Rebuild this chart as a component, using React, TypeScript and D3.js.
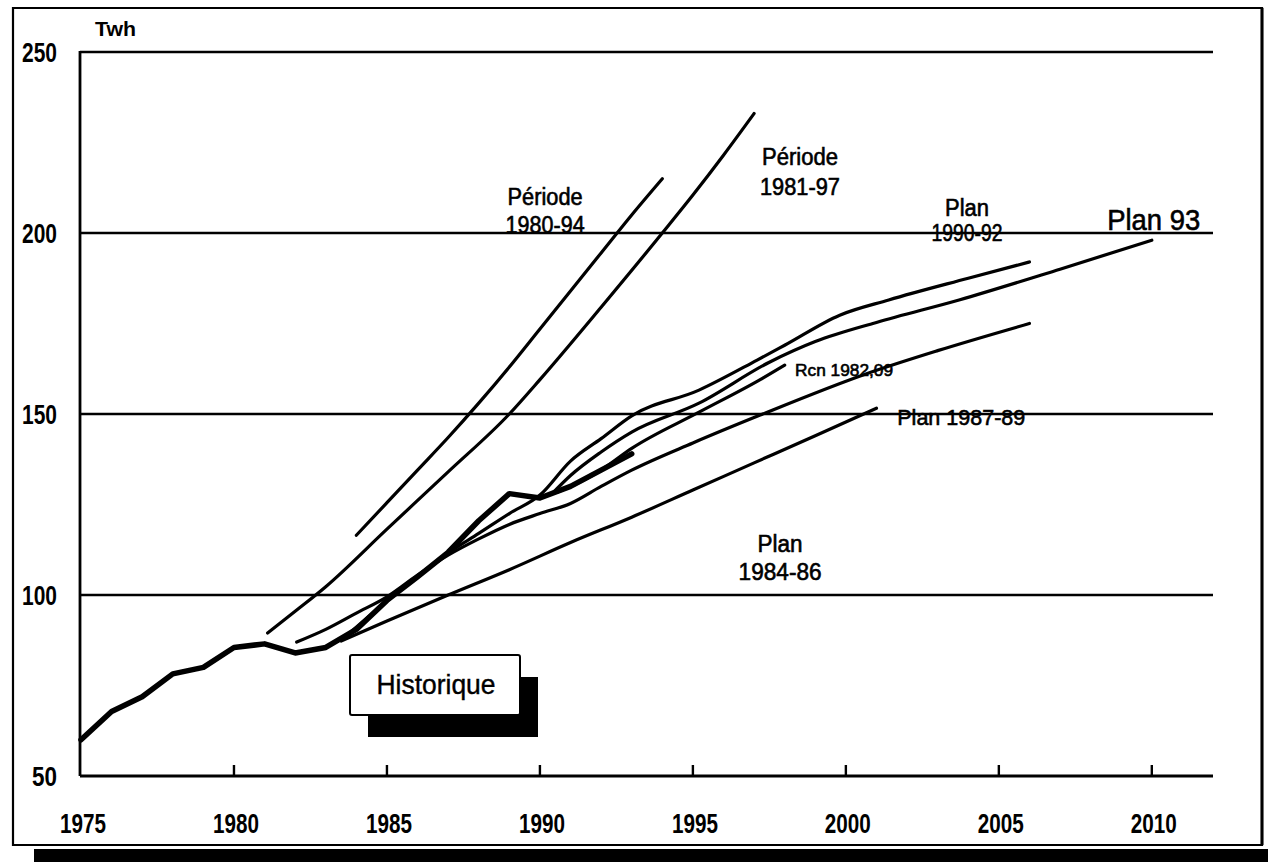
import React, { useRef, useEffect } from 'react';
import * as d3 from 'd3';

type Pt = [number, number];

// Twh
const historique: Pt[] = [[1975, 60], [1976, 67.8], [1977, 71.9], [1978, 78.2], [1979, 80], [1980, 85.5], [1981, 86.5], [1982, 84], [1983, 85.5], [1984, 90.5], [1985, 98.5], [1986, 105], [1987, 111.8], [1988, 120.5], [1989, 128], [1990, 126.8], [1991, 130], [1992, 134.5], [1993, 139]];
const periode8094: Pt[] = [[1984, 116.5], [1985, 125.5], [1986, 134.5], [1987, 143.5], [1988, 153], [1989, 163], [1990, 173.5], [1991, 184], [1992, 194.5], [1993, 205], [1994, 215]];
const periode8197: Pt[] = [[1981.1, 89.5], [1982, 95.5], [1983, 102.3], [1985, 118.2], [1987, 134], [1989, 150], [1990, 159.5], [1992, 179.5], [1994, 200], [1995, 210.5], [1996, 221.5], [1997, 233]];
const planBas: Pt[] = [[1983.5, 87.3], [1985, 92.8], [1987, 100], [1989, 107], [1991, 114.5], [1993, 121.5], [1995, 129], [1997, 136.5], [1999, 144], [2001, 151.6]];
const planB: Pt[] = [[1982.05, 87], [1983, 90.5], [1984, 95], [1985, 99.5], [1986, 105.5], [1987, 111], [1988, 115.5], [1989, 119.5], [1990, 122.5], [1991, 125.3], [1992, 130], [1993, 134.5], [1995, 142], [1997.2, 149.7], [2000.7, 161.2], [2003, 167.5], [2006, 175]];
const plan9092: Pt[] = [[1983.5, 87.5], [1985, 98.3], [1986, 105], [1987, 111.6], [1988, 117], [1989, 122.5], [1990, 127.6], [1991, 137], [1992, 143.2], [1993, 149.5], [1995.2, 156.6], [1997.1, 164.9], [1998, 169], [1999.8, 177.3], [2001.4, 181.5], [2004, 187.5], [2006, 192]];
const plan93: Pt[] = [[1990.4, 128], [1991, 133], [1992, 139.5], [1993, 145], [1995.2, 153], [1997.5, 164.3], [1999, 170], [2001, 175.3], [2003.7, 181.5], [2007, 190], [2010, 198]];
const planRcn: Pt[] = [[1990.6, 128.5], [1991.5, 132], [1992, 134.5], [1993, 140.5], [1995.2, 150.5], [1997.2, 159.5], [1998, 163.5]];

const projections = [periode8094, periode8197, planBas, planB, plan9092, plan93, planRcn];

const yGrid = [100, 150, 200, 250];
const yTicks = [250, 200, 150, 100, 50];
const xTicks = [1975, 1980, 1985, 1990, 1995, 2000, 2005, 2010];

// text, anchor year/value, width
const annotations = [
  { text: 'Période', year: 1990.17, value: 207.7, w: 75, size: 23, anchor: 'middle' },
  { text: '1980-94', year: 1990.17, value: 200.0, w: 79, size: 23, anchor: 'middle' },
  { text: 'Période', year: 1998.5, value: 218.8, w: 76, size: 23, anchor: 'middle' },
  { text: '1981-97', year: 1998.5, value: 210.5, w: 80, size: 23, anchor: 'middle' },
  { text: 'Plan', year: 2003.96, value: 204.7, w: 44, size: 23, anchor: 'middle' },
  { text: '1990-92', year: 2003.96, value: 197.8, w: 71, size: 23, anchor: 'middle' },
  { text: 'Plan 93', year: 2008.54, value: 200.8, w: 93, size: 29, anchor: 'start' },
  { text: 'Rcn 1982,09', year: 1998.34, value: 160.5, w: 98, size: 17, anchor: 'start' },
  { text: 'Plan 1987-89', year: 2001.68, value: 147.0, w: 128, size: 22, anchor: 'start' },
  { text: 'Plan', year: 1997.85, value: 111.9, w: 45, size: 23, anchor: 'middle' },
  { text: '1984-86', year: 1997.85, value: 104.1, w: 83, size: 23, anchor: 'middle' },
];

const FONT = '"Liberation Sans", Arial, sans-serif';

const Chart = () => {
  const svgRef = useRef<SVGSVGElement | null>(null);

  useEffect(() => {
    if (!svgRef.current) return;
    const width = 1268, height = 862;
    const svg = d3.select(svgRef.current);
    svg.selectAll('*').remove();

    const x = d3.scaleLinear().domain([1975, 2012]).range([81, 1213]);
    const y = d3.scaleLinear().domain([50, 250]).range([776, 52]);

    svg.append('rect').attr('width', width).attr('height', height).attr('fill', '#fff');

    // scanned-page frame and its black shadow
    svg.append('rect').attr('x', 34).attr('y', 849).attr('width', width - 34).attr('height', 13).attr('fill', '#000');
    svg.append('path')
      .attr('d', 'M13,845 V8 H1262 V845 Z')
      .attr('fill', 'none').attr('stroke', '#000').attr('stroke-width', 2.2);
    svg.append('line').attr('x1', 1262).attr('x2', 1262).attr('y1', 8).attr('y2', 845)
      .attr('stroke', '#000').attr('stroke-width', 3);

    const g = svg.append('g');

    // horizontal grid lines
    g.selectAll('.grid').data(yGrid).enter().append('line')
      .attr('x1', x(1975) - 1).attr('x2', x(2012))
      .attr('y1', d => y(d)).attr('y2', d => y(d))
      .attr('stroke', '#000').attr('stroke-width', 2.4);

    // axes
    g.append('line').attr('x1', x(1975) - 1).attr('x2', x(2012)).attr('y1', y(50)).attr('y2', y(50))
      .attr('stroke', '#000').attr('stroke-width', 2.8);
    g.append('line').attr('x1', x(1975) - 1).attr('x2', x(1975) - 1).attr('y1', y(250) - 1).attr('y2', y(50))
      .attr('stroke', '#000').attr('stroke-width', 2.8);

    g.selectAll('.tick').data(xTicks.slice(1)).enter().append('line')
      .attr('x1', d => x(d)).attr('x2', d => x(d))
      .attr('y1', y(50)).attr('y2', y(50) - 11)
      .attr('stroke', '#000').attr('stroke-width', 2.4);

    g.selectAll('.xlab').data(xTicks).enter().append('text')
      .attr('x', d => x(d) + 2).attr('y', 833)
      .attr('text-anchor', 'middle')
      .attr('font-family', FONT).attr('font-weight', 'bold').attr('font-size', 27)
      .attr('textLength', 46).attr('lengthAdjust', 'spacingAndGlyphs')
      .text(d => String(d));

    g.selectAll('.ylab').data(yTicks).enter().append('text')
      .attr('x', 57).attr('y', d => y(d) + 10)
      .attr('text-anchor', 'end')
      .attr('font-family', FONT).attr('font-weight', 'bold').attr('font-size', 27)
      .attr('textLength', d => (d < 100 ? 25 : 35)).attr('lengthAdjust', 'spacingAndGlyphs')
      .text(d => String(d));

    g.append('text').attr('x', 95).attr('y', 36)
      .attr('font-family', FONT).attr('font-weight', 'bold').attr('font-size', 21)
      .attr('textLength', 41).attr('lengthAdjust', 'spacingAndGlyphs')
      .text('Twh');

    // projection curves
    const smooth = d3.line<Pt>().x(d => x(d[0])).y(d => y(d[1])).curve(d3.curveMonotoneX);
    g.selectAll('.proj').data(projections).enter().append('path')
      .attr('d', d => smooth(d))
      .attr('fill', 'none').attr('stroke', '#000').attr('stroke-width', 3.2)
      .attr('stroke-linecap', 'round').attr('stroke-linejoin', 'round');

    // historical series, thick
    const straight = d3.line<Pt>().x(d => x(d[0])).y(d => y(d[1]));
    g.append('path').attr('d', straight(historique))
      .attr('fill', 'none').attr('stroke', '#000').attr('stroke-width', 5.5)
      .attr('stroke-linecap', 'round').attr('stroke-linejoin', 'round');

    // Historique legend box with drop shadow
    g.append('rect').attr('x', 368).attr('y', 677).attr('width', 170).attr('height', 60).attr('fill', '#000');
    g.append('rect').attr('x', 350).attr('y', 655).attr('width', 170).attr('height', 60)
      .attr('fill', '#fff').attr('stroke', '#000').attr('stroke-width', 2).attr('rx', 2);
    g.append('text').attr('x', 436).attr('y', 694)
      .attr('text-anchor', 'middle')
      .attr('font-family', FONT).attr('font-size', 28)
      .attr('stroke', '#000').attr('stroke-width', 0.4)
      .attr('textLength', 119).attr('lengthAdjust', 'spacingAndGlyphs')
      .text('Historique');

    g.selectAll('.ann').data(annotations).enter().append('text')
      .attr('x', d => x(d.year)).attr('y', d => y(d.value))
      .attr('text-anchor', d => d.anchor)
      .attr('font-family', FONT).attr('font-size', d => d.size)
      .attr('stroke', '#000').attr('stroke-width', 0.6)
      .attr('textLength', d => d.w).attr('lengthAdjust', 'spacingAndGlyphs')
      .text(d => d.text);
  }, []);

  return <svg ref={svgRef} width={1268} height={862} style={{ display: 'block' }} />;
};

export default function App() {
  return (
    <div style={{ position: 'absolute', left: 0, top: 0, width: 1268, height: 862, background: '#fff' }}>
      <Chart />
    </div>
  );
}
